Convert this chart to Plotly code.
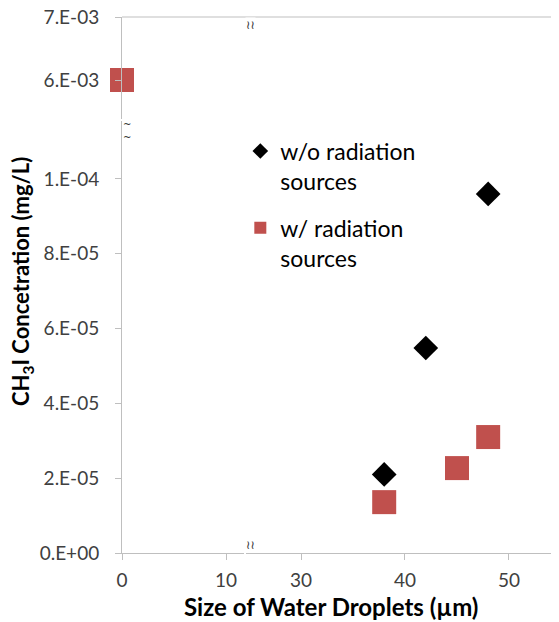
import plotly.graph_objects as go

# Data
wo_x = [38, 42, 48]
wo_y = [2.1e-05, 5.48e-05, 9.6e-05]
w_x_low = [38, 45, 48]
w_y_low = [1.36e-05, 2.27e-05, 3.1e-05]
w_x_high = [0]
w_y_high = [6.0e-03]

y_low_ticks = [0, 2e-05, 4e-05, 6e-05, 8e-05, 1e-04]
y_low_text = ["0.E+00", "2.E-05", "4.E-05", "6.E-05", "8.E-05", "1.E-04"]
y_high_ticks = [6e-03, 7e-03]
y_high_text = ["6.E-03", "7.E-03"]
x_left_ticks = [0, 10]
x_right_ticks = [30, 40, 50]

RED = "#C0504D"
AX = "#BFBFBF"
FONT = "Lato, sans-serif"
TICKFONT = dict(family=FONT, size=19, color="#404040")

fig = go.Figure()
fig.add_trace(go.Scatter(
    x=wo_x, y=wo_y, xaxis="x2", yaxis="y", mode="markers",
    name="w/o radiation<br>sources", legendgroup="a",
    marker=dict(symbol="diamond", size=19, color="black"),
))
fig.add_trace(go.Scatter(
    x=w_x_low, y=w_y_low, xaxis="x2", yaxis="y", mode="markers",
    name="w/ radiation<br>sources", legendgroup="b",
    marker=dict(symbol="square", size=24, color=RED),
))
fig.add_trace(go.Scatter(
    x=w_x_high, y=w_y_high, xaxis="x", yaxis="y2", mode="markers",
    showlegend=False, legendgroup="b", cliponaxis=False,
    marker=dict(symbol="square", size=24, color=RED),
))

common_x = dict(showline=True, linecolor=AX, linewidth=1, ticks="outside",
                ticklen=6, tickcolor=AX, showgrid=False, zeroline=False,
                tickfont=TICKFONT, ticklabelstandoff=4, ticklabeloverflow="allow",
                automargin=False)
common_y = dict(showline=True, linecolor=AX, linewidth=1, ticks="outside",
                ticklen=6, tickcolor=AX, showgrid=False, zeroline=False,
                tickfont=TICKFONT, ticklabelstandoff=12, ticklabeloverflow="allow",
                automargin=False)

# page body has an 8px margin; figure is sized to fill the rest of the window
fig.update_layout(
    width=551, height=614,
    margin=dict(l=114, r=2, t=9, b=69, autoexpand=False),
    paper_bgcolor="white", plot_bgcolor="white",
    font=dict(family=FONT, color="black"),
    xaxis=dict(domain=[0, 0.2805], range=[0, 11.73], anchor="y",
               tickvals=x_left_ticks, **common_x),
    xaxis2=dict(domain=[0.2851, 1], range=[24.71, 54.62], anchor="y",
                tickvals=x_right_ticks, **common_x),
    yaxis=dict(domain=[0, 0.806], range=[0, 1.155e-4], anchor="x",
               tickvals=y_low_ticks, ticktext=y_low_text, **common_y),
    yaxis2=dict(domain=[0.8097, 1], range=[5.381e-3, 7.0008e-3], anchor="x",
                tickvals=y_high_ticks, ticktext=y_high_text, **common_y),
    showlegend=True,
    legend=dict(x=0.272, y=0.79, xanchor="left", yanchor="top",
                font=dict(family=FONT, size=23, color="black"),
                valign="top", tracegroupgap=14, itemwidth=30,
                itemsizing="constant", bgcolor="rgba(0,0,0,0)"),
)

# frame lines (top and right)
fig.add_shape(type="line", xref="paper", yref="paper", x0=0, x1=1.005, y0=1, y1=1,
              line=dict(color=AX, width=1))
fig.add_shape(type="line", xref="paper", yref="paper", x0=1, x1=1, y0=0, y1=0.806,
              line=dict(color="#E6E6E6", width=1))

# axis break marks
brk = dict(family="DejaVu Sans", size=12, color="#333")
fig.add_annotation(xref="paper", yref="paper", x=0.2828, y=0, text="≀≀",
                   showarrow=False, font=brk, bgcolor="white", borderpad=0)
fig.add_annotation(xref="paper", yref="paper", x=0.2828, y=1, text="≀≀",
                   showarrow=False, font=brk, bgcolor="white", borderpad=0)
fig.add_annotation(xref="paper", yref="paper", x=0, y=0.812, text="~<br>~",
                   showarrow=False, font=dict(family="DejaVu Sans", size=10, color="#333"),
                   bgcolor="white", borderpad=0)
fig.add_annotation(xref="paper", yref="paper", x=1.004, y=0.812, text="⁄<br>⁄",
                   xanchor="right", showarrow=False,
                   font=dict(family="DejaVu Sans", size=8, color="#333"))

# axis titles
fig.add_annotation(xref="paper", yref="paper", x=(331 - 122) / 435, y=-(606 - 553) / 536,
                   text="<b>Size of Water Droplets (µm)</b>", showarrow=False,
                   xanchor="center", yanchor="middle",
                   font=dict(family=FONT, size=24, color="black"))
fig.add_annotation(xref="paper", yref="paper", x=-(122 - 22) / 435, y=(553 - 282) / 536,
                   text="<b>CH<sub>3</sub>I Concetration (mg/L)</b>", showarrow=False,
                   textangle=-90, xanchor="center", yanchor="middle",
                   font=dict(family=FONT, size=22, color="black"))

fig.write_html("out.html")
